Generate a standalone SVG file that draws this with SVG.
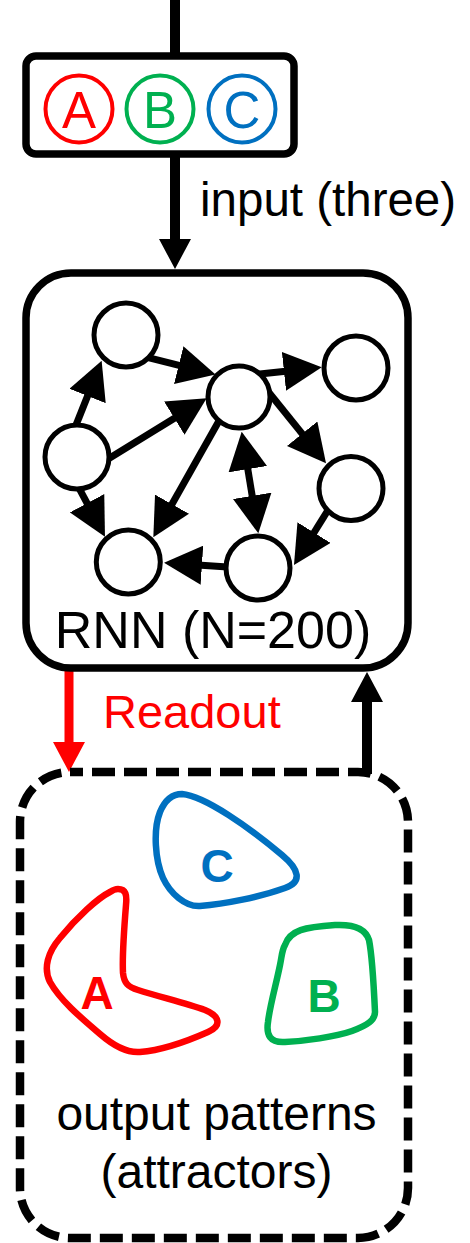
<svg xmlns="http://www.w3.org/2000/svg" width="470" height="1243" viewBox="0 0 470 1243">
  <style>
    .txt { font-family: "Liberation Sans", Arial, sans-serif; }
    .box { fill: #fff; stroke: #000; stroke-width: 7.5; }
    .node { fill: #fff; stroke: #000; stroke-width: 5; }
    .edge { fill: none; stroke: #000; stroke-width: 7; marker-end: url(#head); }
    .big { fill: none; stroke: #000; stroke-width: 10; marker-end: url(#bighead); }
    .blob { fill: none; stroke-width: 6.5; stroke-linejoin: round; }
    .red { fill: #ff0000; }
    .green { fill: #00b050; }
    .blue { fill: #0070c0; }
  </style>
  <defs>
    <!-- arrowhead for the network edges; tip sits 15px past the line end -->
    <marker id="head" markerUnits="userSpaceOnUse" markerWidth="38" markerHeight="39" refX="23" refY="19.5" orient="auto-start-reverse">
      <path d="M0,0 L38,19.5 L0,39 Z" fill="#000"/>
    </marker>
    <!-- arrowheads for the thick flow arrows -->
    <marker id="bighead" markerUnits="userSpaceOnUse" markerWidth="30" markerHeight="32" refX="20" refY="16" orient="auto">
      <path d="M0,0 L30,16 L0,32 Z" fill="#000"/>
    </marker>
    <marker id="redhead" markerUnits="userSpaceOnUse" markerWidth="30" markerHeight="32" refX="20" refY="16" orient="auto">
      <path d="M0,0 L30,16 L0,32 Z" fill="#ff0000"/>
    </marker>
  </defs>

  <!-- flow connectors between the blocks -->
  <g id="flow">
    <line x1="175" y1="0" x2="175" y2="58" stroke="#000" stroke-width="10"/>
    <line class="big" x1="175" y1="156" x2="175" y2="259"/>
    <line x1="69" y1="671" x2="69" y2="762" stroke="#ff0000" stroke-width="9" marker-end="url(#redhead)"/>
    <line class="big" x1="367" y1="774" x2="367" y2="682"/>
  </g>

  <!-- input block -->
  <g id="input">
    <rect class="box" x="26" y="56" width="268" height="98" rx="10"/>
    <circle cx="79" cy="109" r="33.5" fill="none" stroke="#ff0000" stroke-width="4"/>
    <circle cx="160" cy="109" r="33.5" fill="none" stroke="#00b050" stroke-width="4"/>
    <circle cx="242" cy="109" r="33.5" fill="none" stroke="#0070c0" stroke-width="4"/>
    <text class="txt red" x="79" y="128" font-size="51" text-anchor="middle">A</text>
    <text class="txt green" x="160" y="128" font-size="51" text-anchor="middle">B</text>
    <text class="txt blue" x="242" y="128" font-size="51" text-anchor="middle">C</text>
  </g>
  <text id="input-label" class="txt" x="200" y="216" font-size="47.5">input (three)</text>

  <!-- recurrent network block -->
  <g id="rnn">
    <rect class="box" x="26" y="273" width="382" height="395" rx="45"/>
    <text class="txt" x="213" y="648" font-size="52" text-anchor="middle">RNN (N=200)</text>
  </g>

  <!-- recurrent connections -->
  <g id="connectors">
    <line class="edge" x1="140.3" y1="355.6" x2="201.0" y2="370.8"/>
    <line class="edge" x1="255.1" y1="374.4" x2="306.8" y2="368.9"/>
    <line class="edge" x1="268.7" y1="392.2" x2="316.6" y2="451.6"/>
    <line class="edge" x1="73" y1="432.6" x2="96.1" y2="374.6"/>
    <line class="edge" x1="103.2" y1="461.9" x2="193.9" y2="406.2"/>
    <line class="edge" x1="75.3" y1="481.2" x2="97.9" y2="523.5"/>
    <line class="edge" x1="221.6" y1="416.3" x2="160.7" y2="524.2"/>
    <line class="edge" x1="235" y1="567.4" x2="179" y2="563.7"/>
    <line class="edge" x1="330.3" y1="506.5" x2="301.9" y2="552.2"/>
    <line class="edge" x1="244.1" y1="446.5" x2="255.9" y2="518.5" marker-start="url(#head)"/>
  </g>

  <!-- network units -->
  <g id="units">
    <circle id="n1" class="node" cx="126" cy="335" r="32"/>
    <circle id="n2" class="node" cx="239" cy="397" r="31"/>
    <circle id="n3" class="node" cx="356" cy="368" r="32"/>
    <circle id="n4" class="node" cx="77" cy="457" r="32"/>
    <circle id="n5" class="node" cx="351" cy="488.5" r="32"/>
    <circle id="n6" class="node" cx="128.3" cy="562" r="32"/>
    <circle id="n7" class="node" cx="258" cy="568" r="32"/>
  </g>

  <text id="readout-label" class="txt red" x="103" y="728" font-size="47">Readout</text>

  <!-- output block -->
  <g id="output">
    <rect x="20" y="772" width="388" height="466" rx="50" fill="none" stroke="#000" stroke-width="8.5" stroke-dasharray="23 9" stroke-dashoffset="10"/>
    <path class="blob" stroke="#0070c0" d="M182,794 C205,796 250,828 282,855 C300,870 302,882 285,888 C260,897 225,904 200,906 C185,907 170,893 163,878 C155,860 153,830 160,812 C165,800 172,794 182,794 Z"/>
    <path class="blob" stroke="#ff0000" d="M118,889 C126,889 127,895 126,905 C124,930 122,955 123,973 C124,983 128,987 138,990 C160,997 185,1003 205,1010 C220,1016 222,1026 208,1032 C190,1040 165,1050 140,1052 C128,1053 115,1047 100,1034 C80,1017 60,1000 50,982 C43,968 48,952 60,938 C77,917 98,898 110,892 C113,890 115,889 118,889 Z"/>
    <path class="blob" stroke="#00b050" d="M285,945 C290,930 305,927 335,925 C355,924 366,930 369,940 C372,955 374,990 375,1012 C375,1020 368,1025 352,1031 C335,1037 305,1041 285,1042 C270,1043 266,1035 268,1022 C270,1005 276,985 280,965 C282,955 282,950 285,945 Z"/>
    <text class="txt blue" x="217" y="882" font-size="46" font-weight="bold" text-anchor="middle">C</text>
    <text class="txt red" x="97" y="1009" font-size="46" font-weight="bold" text-anchor="middle">A</text>
    <text class="txt green" x="324" y="1012" font-size="46" font-weight="bold" text-anchor="middle">B</text>
    <text class="txt" x="216.5" y="1130" font-size="48" text-anchor="middle">output patterns</text>
    <text class="txt" x="216.5" y="1188" font-size="48" text-anchor="middle">(attractors)</text>
  </g>
</svg>
